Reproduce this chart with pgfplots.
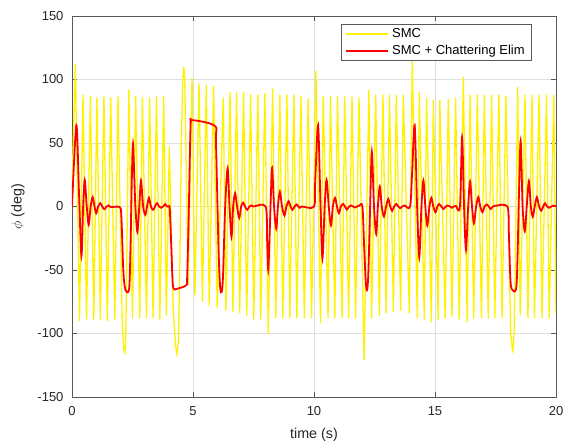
\documentclass[border=0pt]{standalone}
\usepackage{fontspec}
\setmainfont{Liberation Sans}
\usepackage{pgfplots}
\pgfplotsset{compat=1.18}
\begin{document}
\begin{tikzpicture}
\begin{axis}[name=ax, scale only axis, width=484pt, height=381pt,
  xmin=0, xmax=20, ymin=-150, ymax=150,
  xtick={0,5,10,15,20}, ytick={-150,-100,-50,0,50,100,150},
  grid=major, grid style={color=black!13, line width=0.5pt},
  axis line style={color=black!65, line width=0.6pt},
  tick align=inside, major tick length=5pt, tick style={color=black!65, line width=0.6pt},
  ticklabel style={font=\fontsize{13}{15}\selectfont, color=black!85},
  xticklabel style={yshift=-6pt},
  yticklabel style={xshift=-5pt},
  /pgf/number format/assume math mode=true,
  xlabel={time (s)}, ylabel={$\phi$ (deg)},
  label style={font=\fontsize{14.3}{16}\selectfont, color=black!85},
  xlabel style={yshift=-6pt},
  ylabel style={yshift=6pt},
  legend cell align=left,
  legend image code/.code={\draw[#1] (0pt,0pt) -- (42pt,0pt);},
  legend style={at={(1,1)}, anchor=north east, xshift=-24pt, yshift=-8pt,
    draw=black!65, fill=white, line width=0.6pt, inner xsep=4pt, inner ysep=1.5pt, row sep=0pt,
    font=\fontsize{13}{15}\selectfont,
    nodes={text height=10pt, text depth=3.5pt, inner ysep=1.6pt, inner xsep=3pt}},
]
\addplot[color=yellow, line width=1.3pt] coordinates {
(0,15) (0.14,112) (0.31,-90) (0.455,88) (0.60,-89) (0.76,87) (0.90,-89) (1.03,86)
(1.17,-89) (1.32,87) (1.46,-90) (1.60,86) (1.77,-89) (1.90,87) (2.08,-95) (2.14,-112)
(2.18,-115) (2.22,-108) (2.35,92) (2.50,-88) (2.63,87) (2.80,-88) (2.91,86) (3.08,-88)
(3.21,86) (3.35,-88) (3.49,87) (3.63,-89) (3.79,87) (3.90,-86) (4.02,47) (4.18,-79)
(4.28,-110) (4.34,-116) (4.40,-105) (4.46,-40) (4.52,52) (4.58,100) (4.62,110) (4.66,100)
(4.80,-62) (4.96,101) (5.08,-70) (5.25,97) (5.39,-75) (5.55,96) (5.67,-78) (5.85,95)
(6.00,-80) (6.25,86) (6.36,-82) (6.53,90) (6.65,-83) (6.80,90) (6.93,-84) (7.09,90)
(7.22,-86) (7.38,88) (7.51,-89) (7.68,88) (7.80,-89) (7.97,89) (8.11,-100) (8.29,93)
(8.42,-88) (8.59,88) (8.71,-88) (8.88,88) (9.00,-88) (9.17,88) (9.29,-88) (9.46,87)
(9.60,-88) (9.76,85) (9.90,-88) (10.08,107) (10.27,-92) (10.38,87) (10.58,-88) (10.68,87)
(10.86,-88) (10.97,87) (11.16,-88) (11.27,87) (11.43,-88) (11.57,87) (11.72,-88) (11.86,86)
(12.07,-121) (12.27,92) (12.38,-88) (12.55,88) (12.70,-86) (12.85,88) (12.98,-84) (13.12,88)
(13.28,-83) (13.40,88) (13.58,-82) (13.69,88) (13.94,-84) (14.06,115) (14.27,-88) (14.35,90)
(14.56,-89) (14.65,86) (14.85,-91) (14.93,84) (15.13,-89) (15.20,84) (15.42,-88) (15.55,85)
(15.70,-87) (15.85,86) (16.00,-89) (16.17,102) (16.33,-91) (16.45,88) (16.60,-88) (16.75,88)
(16.92,-88) (17.04,88) (17.20,-88) (17.34,88) (17.47,-88) (17.64,88) (17.77,-88) (17.93,87)
(18.13,-100) (18.21,-115) (18.27,-100) (18.42,94) (18.52,-86) (18.72,88) (18.84,-88) (19.01,88)
(19.11,-88) (19.30,88) (19.42,-88) (19.61,88) (19.72,-88) (19.91,88) (20.00,-84)
};
\addlegendentry{SMC}
\addplot[color=red, line width=1.8pt, smooth, tension=0.5] coordinates {
(0,0) (0.18,64) (0.29,10) (0.39,-39) (0.46,0) (0.525,21) (0.61,0) (0.69,-14.5) (0.77,0)
(0.855,7.4) (0.93,0) (1.0,-5.3) (1.08,0) (1.17,2.6) (1.25,0) (1.34,-2.1) (1.43,0) (1.52,0.8)
(1.6,-0.5) (1.97,-0.5) (2.04,-8) (2.12,-50) (2.2,-65) (2.36,-65) (2.42,-30) (2.47,20)
(2.52,49.5) (2.58,20) (2.62,0) (2.70,-20) (2.78,0) (2.85,20.5) (2.94,0) (3.03,-6.6) (3.10,0)
(3.18,6.8) (3.26,0) (3.35,-2.6) (3.43,0) (3.51,2.6) (3.60,0) (3.68,-1) (3.77,0) (3.85,1.8)
(3.92,0) (3.99,0) (4.04,-2) (4.10,-30) (4.16,-60) (4.22,-65) (4.30,-65) (4.72,-62) (4.76,-55)
(4.83,0) (4.90,64) (4.96,68) (5.9,63.5) (5.95,50) (6.05,-30) (6.12,-63) (6.18,-67.5)
(6.24,-55) (6.33,0) (6.43,30) (6.51,0) (6.59,-24) (6.66,0) (6.74,10.5) (6.82,0) (6.91,-9)
(6.99,0) (7.07,3) (7.15,0) (7.24,-2.6) (7.33,0) (7.42,0.8) (7.5,0) (8.0,0) (8.06,-25)
(8.11,-50) (8.17,-20) (8.22,10) (8.27,30.5) (8.35,0) (8.44,-17.6) (8.51,0) (8.59,11.6)
(8.68,0) (8.78,-7.1) (8.86,0) (8.95,4.2) (9.03,0) (9.11,-2.6) (9.2,0) (9.28,1.6) (9.35,0)
(9.41,-1) (9.5,0) (10.0,0) (10.05,20) (10.17,64) (10.27,0) (10.35,-40.8) (10.44,0)
(10.52,21) (10.61,0) (10.70,-15) (10.78,0) (10.87,6.8) (10.95,0) (11.03,-5.3) (11.11,0)
(11.2,2) (11.28,0) (11.36,-2.4) (11.45,0) (11.53,0.8) (11.62,0) (11.7,-0.8) (11.78,0)
(11.86,0.5) (12.0,0) (12.07,-30) (12.14,-60) (12.2,-65.5) (12.25,-50) (12.32,0) (12.39,43)
(12.48,0) (12.57,-21.6) (12.64,0) (12.72,15.8) (12.8,0) (12.89,-7.9) (12.98,0) (13.07,6)
(13.15,0) (13.23,-3.4) (13.31,0) (13.4,2) (13.48,0) (13.56,-1.3) (13.65,0) (13.74,0.8)
(13.97,0) (14.05,25) (14.16,64) (14.26,0) (14.35,-40) (14.44,0) (14.52,20.5) (14.60,0)
(14.68,-15) (14.77,0) (14.85,6.8) (14.93,0) (15.02,-4.6) (15.1,0) (15.17,2) (15.26,0)
(15.35,-2) (15.44,0) (15.53,0.8) (15.62,0) (15.7,-1) (15.78,0) (15.86,0.5) (16.03,0)
(16.12,54.7) (16.20,0) (16.28,-34.2) (16.37,0) (16.45,19.7) (16.53,0) (16.61,-13.2) (16.70,0)
(16.79,7.4) (16.87,0) (16.96,-4.5) (17.05,0) (17.14,1.6) (17.22,0) (17.3,-2) (17.39,0)
(17.48,0.5) (17.99,0) (18.05,-20) (18.11,-55) (18.17,-65) (18.35,-65) (18.41,-40) (18.47,10)
(18.54,51.5) (18.62,0) (18.71,-19.5) (18.79,0) (18.88,20) (18.96,0) (19.04,-8) (19.12,0)
(19.21,7.4) (19.30,0) (19.39,-3.4) (19.47,0) (19.55,2.6) (19.63,0) (19.72,-1) (19.81,0)
(19.9,0.8) (20,0)
};
\addlegendentry{SMC + Chattering Elim}
\end{axis}
\pgfresetboundingbox
\path[use as bounding box] ([shift={(-72pt,-46pt)}]ax.south west) rectangle ([shift={(15pt,16pt)}]ax.north east);
\end{tikzpicture}
\end{document}
